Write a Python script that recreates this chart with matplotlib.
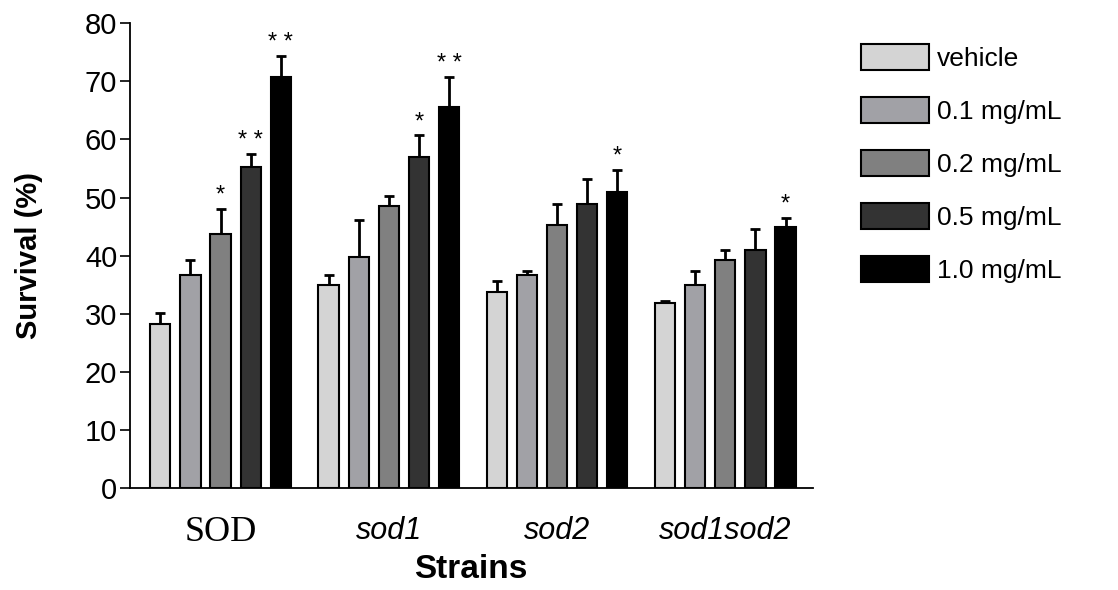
import numpy as np
from matplotlib import pyplot as plt

plt.rcParams['font.family'] = ['Liberation Sans', 'DejaVu Sans']

strains = ["SOD", "sod1", "sod2", "sod1sod2"]
doses = ["vehicle", "0.1 mg/mL", "0.2 mg/mL", "0.5 mg/mL", "1.0 mg/mL"]

# survival (%) per dose, one value per strain
vehicle = [28.2, 35.0, 33.8, 31.8]
dose_01 = [36.6, 39.7, 36.6, 34.9]
dose_02 = [43.7, 48.5, 45.3, 39.3]
dose_05 = [55.3, 56.9, 48.9, 40.9]
dose_10 = [70.7, 65.6, 50.9, 44.9]

# upper error (SEM)
err_vehicle = [2.0, 1.6, 1.9, 0.4]
err_01 = [2.7, 6.4, 0.7, 2.4]
err_02 = [4.4, 1.7, 3.6, 1.6]
err_05 = [2.2, 3.8, 4.3, 3.6]
err_10 = [3.6, 5.1, 3.8, 1.6]

# significance marks
stars_02 = ["*", "", "", ""]
stars_05 = ["**", "*", "", ""]
stars_10 = ["**", "**", "*", "*"]

values = [vehicle, dose_01, dose_02, dose_05, dose_10]
errors = [err_vehicle, err_01, err_02, err_05, err_10]
stars = [["", "", "", ""], ["", "", "", ""], stars_02, stars_05, stars_10]
colors = ["#d4d4d4", "#a1a1a6", "#808080", "#333333", "#000000"]

fig = plt.figure(figsize=(11.18, 5.90), dpi=100)
ax = fig.add_axes([0.116, 0.173, 0.611, 0.7875])

x = np.arange(len(strains))
step = 0.179
width = 0.12

for i in range(len(doses)):
    pos = x + (i - 2) * step
    ax.bar(pos, values[i], width, color=colors[i], edgecolor="black",
           linewidth=1.5, label=doses[i], zorder=2)
    yerr = [np.zeros(len(strains)), errors[i]]
    ax.errorbar(pos, values[i], yerr=yerr, fmt="none", ecolor="black",
                elinewidth=2, capsize=3.5, capthick=2, zorder=1)
    for j in range(len(strains)):
        if stars[i][j]:
            mark = " ".join(stars[i][j])
            ax.text(pos[j], values[i][j] + errors[i][j] + 0.4, mark,
                    ha="center", va="bottom", fontsize=17)

ax.set_xlim(-0.54, 3.52)
ax.set_ylim(0, 80)
ax.set_yticks(range(0, 81, 10))
ax.tick_params(axis="y", labelsize=21, length=7, width=1.2, direction="out", pad=2)
ax.tick_params(axis="x", length=0, labelsize=22, pad=20)
ax.set_xticks(x)
ax.set_xticklabels(strains)
labels = ax.get_xticklabels()
labels[0].set_family(['Liberation Serif', 'DejaVu Serif'])
labels[0].set_fontsize(26)
for lab in labels[1:]:
    lab.set_style("italic")

ax.spines["top"].set_visible(False)
ax.spines["right"].set_visible(False)
ax.spines["left"].set_linewidth(1.3)
ax.spines["bottom"].set_linewidth(1.3)

ax.set_xlabel("Strains", fontsize=24, fontweight="bold", labelpad=4)
ax.set_ylabel("Survival (%)", fontsize=21, fontweight="bold", labelpad=30)

fig.legend(loc="upper left", bbox_to_anchor=(0.770, 0.925), frameon=False,
           fontsize=19, handlelength=2.6, handleheight=1.1,
           handletextpad=0.3, labelspacing=1.0, borderpad=0, borderaxespad=0)

plt.savefig("out.png", dpi=100)
